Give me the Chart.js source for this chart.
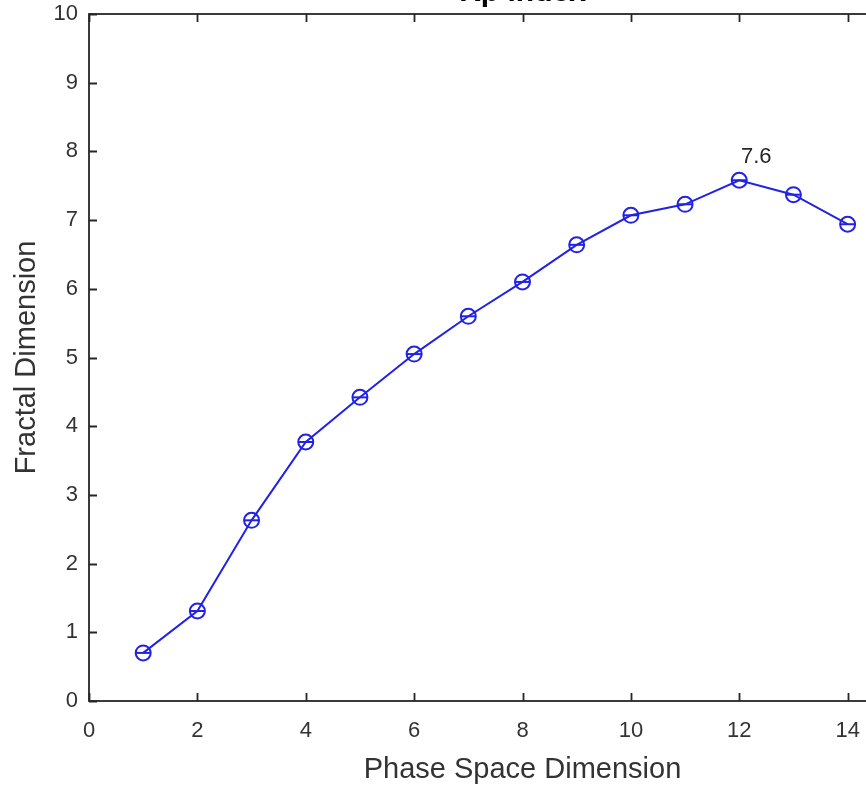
<!DOCTYPE html>
<html>
<head>
<meta charset="utf-8">
<script src="https://cdn.jsdelivr.net/npm/chart.js@4.4.1/dist/chart.umd.min.js"></script>
<style>
  html, body { margin: 0; padding: 0; width: 866px; height: 786px; overflow: hidden; background: #fff; }
  #wrap { position: absolute; left: 0; top: -40px; width: 1040px; height: 826px; }
  canvas { display: block; }
</style>
</head>
<body>
<div id="wrap"><canvas id="c" width="1040" height="826"></canvas></div>
<script>
const chartTitle = "Kp index";
const xAxisTitle = "Phase Space Dimension";
const yAxisTitle = "Fractal Dimension";
const phaseSpaceDims = [1, 2, 3, 4, 5, 6, 7, 8, 9, 10, 11, 12, 13, 14];
const fractalDims = [0.70, 1.31, 2.63, 3.77, 4.42, 5.05, 5.60, 6.10, 6.64, 7.07, 7.23, 7.58, 7.37, 6.94];
const xTickValues = [0, 2, 4, 6, 8, 10, 12, 14, 16];
const yTickValues = [0, 1, 2, 3, 4, 5, 6, 7, 8, 9, 10];

const points = phaseSpaceDims.map((d, i) => ({ x: d, y: fractalDims[i] }));
const FONT = "'Liberation Sans', Arial, Helvetica, sans-serif";
const BLUE = '#2222e6';
const AXIS = '#262626';
const TEXT = '#333333';

const boxPlugin = {
  id: 'matlabBox',
  afterDraw(chart) {
    const { ctx, chartArea: { left, right, top, bottom }, scales: { x, y } } = chart;
    ctx.save();
    ctx.strokeStyle = AXIS;
    ctx.lineWidth = 1.8;
    ctx.strokeRect(left, top, right - left, bottom - top);
    ctx.beginPath();
    const tl = 8;
    x.ticks.forEach(t => {
      const px = Math.round(x.getPixelForValue(t.value)) + 0.5;
      ctx.moveTo(px, bottom); ctx.lineTo(px, bottom - tl);
      ctx.moveTo(px, top); ctx.lineTo(px, top + tl);
    });
    y.ticks.forEach(t => {
      const py = Math.round(y.getPixelForValue(t.value)) + 0.5;
      ctx.moveTo(left, py); ctx.lineTo(left + tl, py);
      ctx.moveTo(right, py); ctx.lineTo(right - tl, py);
    });
    ctx.stroke();

    // title (centered over plot area)
    ctx.fillStyle = '#000';
    ctx.font = "bold 30px " + FONT;
    ctx.textAlign = 'center';
    ctx.textBaseline = 'alphabetic';
    ctx.fillText(chartTitle, (left + right) / 2, top - 13);

    // max annotation
    let mi = 0;
    fractalDims.forEach((v, i) => { if (v > fractalDims[mi]) mi = i; });
    const px = x.getPixelForValue(phaseSpaceDims[mi]);
    const py = y.getPixelForValue(fractalDims[mi]);
    ctx.fillStyle = '#262626';
    ctx.font = "22px " + FONT;
    ctx.textAlign = 'center';
    ctx.textBaseline = 'middle';
    ctx.fillText(fractalDims[mi].toFixed(1), px + 17, py - 23);
    ctx.restore();
  }
};

new Chart(document.getElementById('c'), {
  type: 'line',
  data: {
    datasets: [
      {
        data: points,
        borderColor: BLUE,
        borderWidth: 2,
        pointStyle: 'circle',
        pointRadius: 7.5,
        pointBorderColor: BLUE,
        pointBackgroundColor: 'rgba(0,0,0,0)',
        pointBorderWidth: 2,
        tension: 0,
        fill: false
      },
      {
        data: points,
        showLine: false,
        pointStyle: 'line',
        pointRadius: 7.5,
        pointBorderColor: BLUE,
        pointBorderWidth: 2,
        borderColor: BLUE
      }
    ]
  },
  options: {
    responsive: false,
    animation: false,
    devicePixelRatio: 1,
    layout: { padding: { top: 54, right: 84, bottom: 0, left: 0 } },
    plugins: { legend: { display: false }, tooltip: { enabled: false }, title: { display: false } },
    scales: {
      x: {
        type: 'linear',
        min: 0, max: 16,
        afterBuildTicks(scale) { scale.ticks = xTickValues.map(v => ({ value: v })); },
        afterFit(scale) { scale.height = 85; },
        grid: { display: false, drawTicks: false },
        border: { display: false },
        ticks: { color: TEXT, font: { family: FONT, size: 22 }, padding: 17, maxRotation: 0, autoSkip: false },
        title: { display: true, text: xAxisTitle, color: TEXT, font: { family: FONT, size: 29 }, padding: { top: 0, bottom: -1 } }
      },
      y: {
        type: 'linear',
        min: 0, max: 10,
        afterBuildTicks(scale) { scale.ticks = yTickValues.map(v => ({ value: v })); },
        afterFit(scale) { scale.width = 89; },
        grid: { display: false, drawTicks: false },
        border: { display: false },
        ticks: { color: TEXT, font: { family: FONT, size: 22 }, padding: 11, autoSkip: false },
        title: { display: true, text: yAxisTitle, color: TEXT, font: { family: FONT, size: 29 }, padding: { top: 10, bottom: 0 } }
      }
    }
  },
  plugins: [boxPlugin]
});
</script>
</body>
</html>
